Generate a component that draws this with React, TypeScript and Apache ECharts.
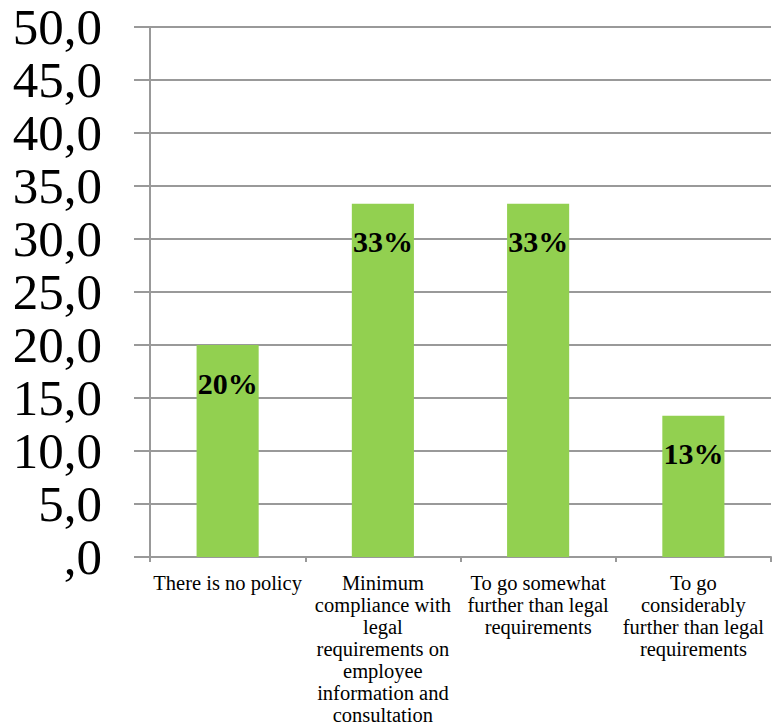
import React, { useEffect, useRef } from "react";
import * as echarts from "echarts";

// Share of respondents by policy approach (percent)
const categories: string[] = [
  "There is no policy",
  "Minimum\ncompliance with\nlegal\nrequirements on\nemployee\ninformation and\nconsultation",
  "To go somewhat\nfurther than legal\nrequirements",
  "To go\nconsiderably\nfurther than legal\nrequirements",
];
const shares: number[] = [20.0, 33.33, 33.33, 13.33];
const yTicks = { min: 0, max: 50, interval: 5 };

const GREY = "#999999";
const FONT = "'Liberation Serif', 'Times New Roman', serif";

export default function App() {
  const ref = useRef<HTMLDivElement>(null);

  useEffect(() => {
    document.body.style.margin = "0";
    if (!ref.current) return;
    const chart = echarts.init(ref.current, undefined, { renderer: "svg" });
    chart.setOption({
      animation: false,
      backgroundColor: "#ffffff",
      grid: { left: 150, right: 3, top: 27, bottom: 168, containLabel: false },
      xAxis: {
        type: "category",
        data: categories,
        axisLine: { show: true, lineStyle: { color: GREY, width: 2 } },
        axisTick: { show: true, length: 5, lineStyle: { color: GREY, width: 2 } },
        axisLabel: {
          interval: 0,
          margin: 15,
          color: "#000",
          fontFamily: FONT,
          fontSize: 20.5,
          lineHeight: 22,
          align: "center",
        },
        splitLine: { show: false },
      },
      yAxis: {
        type: "value",
        min: yTicks.min,
        max: yTicks.max,
        interval: yTicks.interval,
        axisLine: { show: true, lineStyle: { color: GREY, width: 2 } },
        axisTick: { show: true, length: 16, lineStyle: { color: GREY, width: 2 } },
        axisLabel: {
          margin: 48,
          color: "#000",
          fontFamily: FONT,
          fontSize: 51,
          formatter: (v: number) => {
            const s = v.toFixed(1).replace(".", ",");
            return s.startsWith("0,") ? s.slice(1) : s;
          },
        },
        splitLine: { show: true, lineStyle: { color: GREY, width: 2 } },
      },
      series: [
        {
          type: "bar",
          data: shares,
          barWidth: "40%",
          itemStyle: { color: "#92D050" },
          label: {
            show: true,
            position: "insideTop",
            distance: 23,
            color: "#000",
            fontFamily: FONT,
            fontWeight: "bold",
            fontSize: 30,
            formatter: (p: any) => `${Math.round(p.value)}%`,
          },
        },
      ],
    });
    return () => chart.dispose();
  }, []);

  return <div ref={ref} style={{ width: 774, height: 726 }} />;
}
